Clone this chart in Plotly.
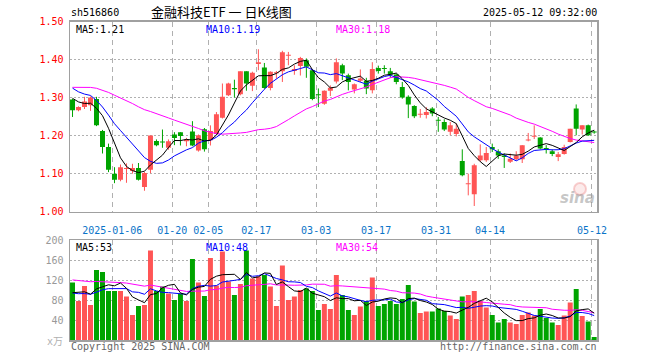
import plotly.graph_objects as go

# ---------------- data ----------------
dates = ["2025-01-06", "01-20", "02-05", "02-17", "03-03", "03-17", "03-31", "04-14", "05-12"]
date_idx = [7, 17, 23, 31, 41, 51, 61, 70, 87]

opens = [1.295, 1.267, 1.275, 1.280, 1.296, 1.212, 1.170, 1.100, 1.084, 1.112,
         1.107, 1.115, 1.065, 1.110, 1.186, 1.184, 1.168, 1.203, 1.209, 1.185,
         1.211, 1.161, 1.217, 1.188, 1.204, 1.247, 1.306, 1.325, 1.309, 1.369,
         1.331, 1.388, 1.379, 1.325, 1.364, 1.369, 1.410, 1.370, 1.383, 1.398,
         1.372, 1.308, 1.284, 1.318, 1.342, 1.385, 1.359, 1.321, 1.344, 1.344,
         1.319, 1.378, 1.377, 1.369, 1.361, 1.328, 1.302, 1.278, 1.255, 1.254,
         1.271, 1.241, 1.236, 1.210, 1.204, 1.133, 1.072, 1.046, 1.135, 1.135,
         1.170, 1.159, 1.148, 1.131, 1.138, 1.138, 1.187, 1.197, 1.195, 1.167,
         1.159, 1.144, 1.152, 1.183, 1.271, 1.216, 1.227, 1.211]
highs = [1.297, 1.277, 1.302, 1.303, 1.302, 1.215, 1.179, 1.117, 1.124, 1.127,
         1.126, 1.128, 1.105, 1.200, 1.190, 1.216, 1.190, 1.209, 1.209, 1.194,
         1.238, 1.203, 1.220, 1.227, 1.262, 1.337, 1.339, 1.347, 1.369, 1.369,
         1.368, 1.427, 1.391, 1.369, 1.370, 1.423, 1.420, 1.385, 1.407, 1.403,
         1.374, 1.324, 1.319, 1.332, 1.403, 1.389, 1.363, 1.337, 1.374, 1.352,
         1.393, 1.384, 1.385, 1.378, 1.363, 1.341, 1.306, 1.280, 1.270, 1.275,
         1.275, 1.249, 1.243, 1.236, 1.232, 1.164, 1.100, 1.126, 1.177, 1.170,
         1.179, 1.164, 1.153, 1.153, 1.159, 1.175, 1.207, 1.227, 1.196, 1.175,
         1.164, 1.157, 1.176, 1.218, 1.282, 1.227, 1.229, 1.213]
lows = [1.249, 1.264, 1.270, 1.265, 1.225, 1.153, 1.104, 1.075, 1.080, 1.076,
        1.100, 1.082, 1.055, 1.101, 1.172, 1.168, 1.163, 1.175, 1.174, 1.172,
        1.172, 1.158, 1.158, 1.174, 1.202, 1.245, 1.304, 1.300, 1.306, 1.318,
        1.317, 1.372, 1.323, 1.319, 1.350, 1.341, 1.385, 1.360, 1.358, 1.352,
        1.293, 1.275, 1.281, 1.304, 1.337, 1.346, 1.319, 1.311, 1.341, 1.309,
        1.311, 1.363, 1.363, 1.352, 1.335, 1.297, 1.246, 1.246, 1.247, 1.245,
        1.251, 1.210, 1.212, 1.201, 1.198, 1.093, 1.043, 1.015, 1.131, 1.131,
        1.157, 1.139, 1.115, 1.128, 1.135, 1.128, 1.185, 1.191, 1.164, 1.153,
        1.146, 1.133, 1.150, 1.182, 1.201, 1.203, 1.199, 1.205]
closes = [1.267, 1.275, 1.290, 1.300, 1.227, 1.170, 1.110, 1.084, 1.117, 1.114,
          1.115, 1.084, 1.102, 1.200, 1.175, 1.182, 1.185, 1.194, 1.199, 1.190,
          1.174, 1.201, 1.164, 1.212, 1.256, 1.302, 1.337, 1.322, 1.369, 1.337,
          1.365, 1.393, 1.325, 1.368, 1.366, 1.419, 1.412, 1.375, 1.404, 1.381,
          1.296, 1.306, 1.318, 1.326, 1.393, 1.363, 1.341, 1.335, 1.350, 1.324,
          1.375, 1.370, 1.375, 1.361, 1.341, 1.300, 1.282, 1.251, 1.257, 1.262,
          1.258, 1.239, 1.216, 1.227, 1.218, 1.096, 1.074, 1.122, 1.148, 1.154,
          1.164, 1.148, 1.144, 1.139, 1.148, 1.175, 1.190, 1.199, 1.166, 1.165,
          1.152, 1.151, 1.170, 1.218, 1.218, 1.227, 1.201, 1.208]
volumes = [115, 78, 108, 70, 140, 136, 98, 98, 98, 87,
           50, 68, 70, 179, 98, 107, 93, 80, 93, 78,
           162, 115, 88, 164, 109, 177, 117, 90, 112, 179,
           123, 127, 130, 107, 68, 149, 80, 87, 100, 103,
           98, 60, 72, 62, 130, 90, 60, 50, 67, 78,
           125, 68, 72, 78, 72, 82, 110, 77, 54, 57,
           57, 63, 58, 49, 42, 87, 90, 98, 78, 65,
           50, 35, 42, 35, 32, 50, 55, 49, 62, 44,
           35, 30, 49, 75, 102, 48, 37, 6]

# sessions before the visible window (only feed the moving averages)
pre_closes = [1.282, 1.301, 1.288, 1.295, 1.310, 1.296, 1.305, 1.318,
              1.335, 1.352, 1.340, 1.327, 1.346, 1.361, 1.338, 1.349,
              1.366, 1.352, 1.341, 1.358, 1.372, 1.349, 1.336, 1.357, 1.344,
              1.322, 1.311, 1.296, 1.294]
pre_volumes = [118, 135, 110, 126, 142, 104, 120, 131, 115, 108, 127, 139, 112,
               165, 148, 172, 139, 158, 150, 145,
               92, 105, 84, 98, 88, 76, 101, 94, 87]

# ---------------- helpers ----------------
W, H = 660, 360
RED = "#ff5555"
GREEN = "#00a400"
MONO = "DejaVu Sans Mono, Liberation Mono, monospace"


def moving_avg(values, prior, n):
    full = list(prior) + list(values)
    off = len(prior)
    return [sum(full[off + i - n + 1: off + i + 1]) / n for i in range(len(values))]


def px(p):
    return p / W


def py(p):
    return 1 - p / H


n = len(closes)
idx = list(range(n))
up = [c >= o for o, c in zip(opens, closes)]
colors = [RED if u else GREEN for u in up]

ma5 = moving_avg(closes, pre_closes, 5)
ma10 = moving_avg(closes, pre_closes, 10)
ma30 = moving_avg(closes, pre_closes, 30)
vma5 = moving_avg(volumes, pre_volumes, 5)
vma10 = moving_avg(volumes, pre_volumes, 10)
vma30 = moving_avg(volumes, pre_volumes, 30)

fig = go.Figure()

# wicks
for flag, col in ((True, RED), (False, GREEN)):
    wx, wy = [], []
    for i in idx:
        if up[i] == flag:
            wx += [i, i, None]
            wy += [lows[i], highs[i], None]
    fig.add_trace(go.Scatter(x=wx, y=wy, mode="lines", line=dict(color=col, width=1),
                             xaxis="x", yaxis="y", hoverinfo="skip"))

# bodies
body_base = [min(o, c) for o, c in zip(opens, closes)]
body_h = [max(abs(c - o), 0.0026) for o, c in zip(opens, closes)]
fig.add_trace(go.Bar(x=idx, y=body_h, base=body_base, width=0.83,
                     marker=dict(color=colors, line=dict(width=0)),
                     xaxis="x", yaxis="y", hoverinfo="skip"))

# price moving averages
for vals, col in ((ma30, "#ff00ff"), (ma10, "#0000ff"), (ma5, "#000000")):
    fig.add_trace(go.Scatter(x=idx, y=vals, mode="lines", line=dict(color=col, width=1),
                             xaxis="x", yaxis="y", hoverinfo="skip"))

# volume
fig.add_trace(go.Bar(x=idx, y=volumes, base=0, width=0.83,
                     marker=dict(color=colors, line=dict(width=0)),
                     xaxis="x2", yaxis="y2", hoverinfo="skip"))
for vals, col in ((vma30, "#ff00ff"), (vma10, "#0000ff"), (vma5, "#000000")):
    fig.add_trace(go.Scatter(x=idx, y=vals, mode="lines", line=dict(color=col, width=1),
                             xaxis="x2", yaxis="y2", hoverinfo="skip"))

x_dom = [px(70), px(597)]
x_range = [-0.42, 87.47]
grid_x = [k - 0.37 for k in date_idx]
border = dict(showline=True, mirror=True, linecolor="#a0a0a0", linewidth=1.5,
              zeroline=False, automargin=False)

price_ticks = [1.0, 1.1, 1.2, 1.3, 1.4, 1.5]
vol_ticks = [40, 80, 120, 160, 200]

fig.update_layout(
    width=W, height=H,
    margin=dict(l=0, r=0, t=0, b=0, pad=0, autoexpand=False),
    paper_bgcolor="white", plot_bgcolor="white",
    showlegend=False, barmode="overlay", hovermode=False,
    xaxis=dict(domain=x_dom, range=x_range, anchor="y",
               tickmode="array", tickvals=grid_x, ticktext=dates,
               tickfont=dict(family=MONO, size=10, color="#0a74c8"),
               ticks="", ticklabelstandoff=9,
               showgrid=True, gridcolor="#b0b0b0", griddash="5px,4px", gridwidth=1,
               **border),
    yaxis=dict(domain=[py(211.7), py(21.5)], range=[1.0, 1.5], anchor="x",
               tickmode="array", tickvals=price_ticks,
               ticktext=[f"{v:.2f}" for v in price_ticks],
               tickfont=dict(family=MONO, size=10, color="#ff0000"),
               ticks="", ticklabelstandoff=3,
               showgrid=True, gridcolor="#b0b0b0", griddash="2px,2px", gridwidth=1,
               **border),
    xaxis2=dict(domain=x_dom, range=x_range, anchor="y2",
                tickmode="array", tickvals=grid_x, showticklabels=False, ticks="",
                showgrid=True, gridcolor="#b0b0b0", griddash="5px,4px", gridwidth=1,
                **border),
    yaxis2=dict(domain=[py(340), py(240)], range=[0, 200], anchor="x2",
                tickmode="array", tickvals=vol_ticks, ticktext=[str(v) for v in vol_ticks],
                tickfont=dict(family=MONO, size=10, color="#999999"),
                ticks="", ticklabelstandoff=3,
                showgrid=True, gridcolor="#b0b0b0", griddash="2px,2px", gridwidth=1,
                **border),
)


def note(text, x, y, anchor="left", color="#000000", size=10, family=MONO):
    fig.add_annotation(text=text, x=px(x), y=py(y), xref="paper", yref="paper",
                       xanchor=anchor, yanchor="middle", showarrow=False, borderpad=0,
                       font=dict(family=family, size=size, color=color))


# header
note("sh516860", 70, 13)
note("金融科技ETF 一 日K线图", 150, 12, size=13, family="Noto Sans CJK SC")
note("2025-05-12 09:32:00", 598, 13, anchor="right")

# moving-average captions
note(f"MA5:{ma5[-1]:.2f}", 75, 29)
note(f"MA10:{ma10[-1]:.2f}", 205, 29, color="#0000ff")
note(f"MA30:{ma30[-1]:.2f}", 335, 29, color="#ff00ff")
note(f"MA5:{int(vma5[-1])}", 75, 247)
note(f"MA10:{int(vma10[-1])}", 205, 247, color="#0000ff")
note(f"MA30:{int(vma30[-1])}", 335, 247, color="#ff00ff")

# footer
note("x万", 64, 341, anchor="right", color="#b0b0b0", family="DejaVu Sans Mono, Noto Sans CJK SC")
note("Copyright 2025 SINA.COM", 70, 346, color="#666666")
note("http://finance.sina.com.cn", 598, 346, anchor="right", color="#666666")

# faint sina watermark
fig.add_shape(type="circle", xref="paper", yref="paper",
              x0=px(574), x1=px(586), y0=py(195), y1=py(183),
              line=dict(color="rgba(235,120,120,0.35)", width=2),
              fillcolor="rgba(235,120,120,0.15)")
note("<b><i>sina</i></b>", 596, 198, anchor="right", color="rgba(150,150,150,0.55)",
     size=15, family="DejaVu Sans")

fig.write_html("out.html",
               config={"displayModeBar": False, "staticPlot": True},
               post_script="document.body.style.margin='0';document.body.style.overflow='hidden';")
